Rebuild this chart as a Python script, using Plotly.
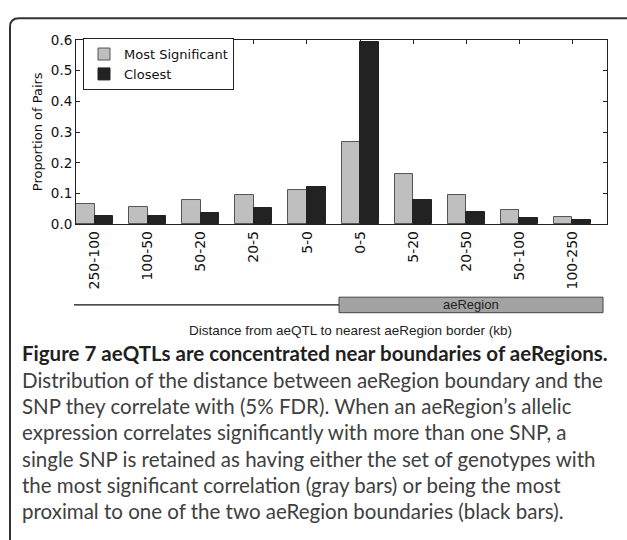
import plotly.graph_objects as go

W, H = 627, 540

categories = ["250-100", "100-50", "50-20", "20-5", "5-0", "0-5", "5-20", "20-50", "50-100", "100-250"]
most_significant = [0.065, 0.058, 0.078, 0.096, 0.111, 0.267, 0.164, 0.094, 0.047, 0.025]
closest = [0.028, 0.028, 0.038, 0.053, 0.123, 0.592, 0.078, 0.041, 0.020, 0.013]
y_ticks = [0.0, 0.1, 0.2, 0.3, 0.4, 0.5, 0.6]

caption_title = "Figure 7 aeQTLs are concentrated near boundaries of aeRegions."
caption_lines = [
    "Distribution of the distance between aeRegion boundary and the",
    "SNP they correlate with (5% FDR). When an aeRegion\u2019s allelic",
    "expression correlates significantly with more than one SNP, a",
    "single SNP is retained as having either the set of genotypes with",
    "the most significant correlation (gray bars) or being the most",
    "proximal to one of the two aeRegion boundaries (black bars).",
]


def px(x):
    return x / W


def py(y):
    return 1 - y / H


idx = list(range(len(categories)))
BW = 0.35

fig = go.Figure()
fig.add_trace(go.Bar(
    x=idx, y=most_significant, name="Most Significant", offset=0, width=BW,
    marker=dict(color="#bfbfbf", line=dict(color="#555555", width=1)),
))
fig.add_trace(go.Bar(
    x=idx, y=closest, name="Closest", offset=BW, width=BW,
    marker=dict(color="#222222", line=dict(color="#222222", width=1)),
))

axis_font = dict(family="DejaVu Sans", size=13.5, color="#111111")

fig.update_layout(
    width=W, height=H,
    margin=dict(l=0, r=0, t=0, b=0),
    paper_bgcolor="white", plot_bgcolor="white",
    bargap=0,
    xaxis=dict(
        domain=[px(76), px(607)], range=[0, 10],
        tickvals=[i + BW for i in idx], ticktext=categories,
        tickangle=-90, ticks="inside", ticklen=4, tickcolor="#222",
        showline=True, linecolor="#222", linewidth=1, mirror="ticks",
        showgrid=False, zeroline=False, tickfont=dict(family="DejaVu Sans", size=14, color="#111"),
    ),
    yaxis=dict(
        domain=[py(223), py(33)], range=[0, 0.6],
        tickvals=y_ticks, ticktext=["%.1f" % v for v in y_ticks],
        ticks="inside", ticklen=4, tickcolor="#222",
        showline=True, linecolor="#222", linewidth=1, mirror="ticks",
        showgrid=False, zeroline=False, tickfont=axis_font,
    ),
    legend=dict(
        x=px(83), y=py(31), xanchor="left", yanchor="top",
        bordercolor="#222", borderwidth=1, bgcolor="white",
        font=dict(family="DejaVu Sans", size=13, color="#111"),
        tracegroupgap=0, itemwidth=30,
    ),
    showlegend=True,
)

annotations = [
    dict(text="Proportion of Pairs", x=px(37), y=py(128), textangle=-90,
         font=dict(family="DejaVu Sans", size=13, color="#111")),
    dict(text="aeRegion", x=px(471), y=py(306),
         font=dict(family="Liberation Sans", size=13, color="#222")),
    dict(text="Distance from aeQTL to nearest aeRegion border (kb)", x=px(350), y=py(332),
         font=dict(family="Liberation Sans", size=13.5, color="#222")),
    dict(text="<b>" + caption_title + "</b>", x=px(20), y=py(356), xanchor="left",
         font=dict(family="Lato", size=20.5, color="#231f20")),
]
for k, line in enumerate(caption_lines):
    annotations.append(dict(text=line, x=px(20), y=py(383 + k * 27.1), xanchor="left",
                            font=dict(family="Lato", size=20.5, color="#404040")))
for a in annotations:
    a.update(xref="paper", yref="paper", showarrow=False)
    a.setdefault("xanchor", "center")
    a.setdefault("yanchor", "middle")
fig.update_layout(annotations=annotations)

# rounded outer frame
r = 9
x0, y0, x1, y1 = 10, 10.5, 636, 560
path = (f"M {px(x0)},{py(y1)} L {px(x0)},{py(y0 + r)} Q {px(x0)},{py(y0)} {px(x0 + r)},{py(y0)} "
        f"L {px(x1 - r)},{py(y0)} Q {px(x1)},{py(y0)} {px(x1)},{py(y0 + r)} L {px(x1)},{py(y1)}")
shapes = [
    dict(type="path", path=path, xref="paper", yref="paper",
         line=dict(color="#333333", width=2)),
    dict(type="line", x0=px(74), x1=px(339), y0=py(306), y1=py(306), xref="paper", yref="paper",
         line=dict(color="#111", width=1.2)),
    dict(type="rect", x0=px(339), x1=px(603), y0=py(314), y1=py(298), xref="paper", yref="paper",
         fillcolor="#a3a3a3", line=dict(color="#444", width=1)),
]
fig.update_layout(shapes=shapes)

fig.write_html("out.html", config={"displayModeBar": False},
               post_script="document.body.style.margin='0';")
